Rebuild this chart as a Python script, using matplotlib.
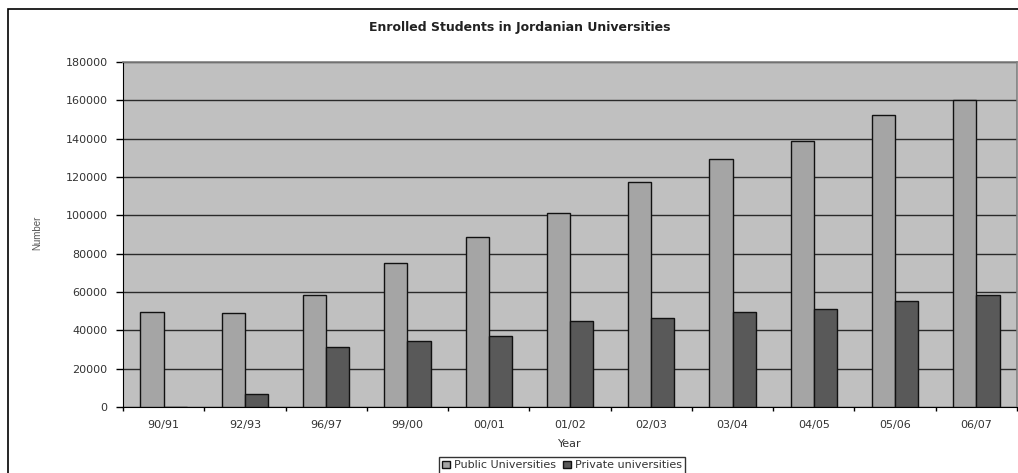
import numpy as np
import matplotlib
matplotlib.use('Agg')
import matplotlib.pyplot as plt
from matplotlib.patches import Rectangle

# dados
anos = ['90/91', '92/93', '96/97', '99/00', '00/01', '01/02',
        '02/03', '03/04', '04/05', '05/06', '06/07']
publicas = [49700, 49200, 58400, 75000, 88500, 101400,
            117400, 129600, 138600, 152200, 160200]
privadas = [0, 7000, 31100, 34600, 37200, 44700,
            46300, 49700, 51000, 55500, 58300]

plt.rcParams['font.family'] = ['DejaVu Sans']

fig = plt.figure(figsize=(10.18, 4.73), dpi=100)
ax = fig.add_axes([123 / 1018, 1 - 407 / 473, 894 / 1018, 345 / 473])
ax.set_facecolor('#c0c0c0')

x = np.arange(len(anos))
larg = 1 / 3.5  # gap width 150%
ax.bar(x - larg / 2, publicas, larg, color='#a5a5a5', edgecolor='#111111',
       linewidth=1.0, label='Public Universities', zorder=3)
ax.bar(x + larg / 2, privadas, larg, color='#595959', edgecolor='#111111',
       linewidth=1.0, label='Private universities', zorder=3)

ax.set_xlim(-0.5, len(anos) - 0.5)
ax.set_ylim(0, 180000)
ax.set_yticks(np.arange(0, 180001, 20000))
ax.yaxis.grid(True, color='#2a2a2a', linewidth=1.0, zorder=1)
ax.set_axisbelow(True)

# rotulos no centro, tracinhos entre categorias
ax.set_xticks(x)
ax.set_xticklabels(anos)
ax.set_xticks(np.arange(-0.5, len(anos)), minor=True)
ax.tick_params(axis='x', which='major', length=0, pad=9, labelsize=8,
               labelcolor='#333333')
ax.tick_params(axis='x', which='minor', length=3, width=1, color='black')
ax.tick_params(axis='y', length=5, width=1, pad=6, labelsize=8,
               labelcolor='#333333')

for s in ['top', 'right']:
    ax.spines[s].set_color('#808080')
    ax.spines[s].set_linewidth(1.2)
ax.spines['left'].set_color('black')
ax.spines['bottom'].set_color('black')

ax.set_xlabel('Year', fontsize=8, color='#333333', labelpad=7)
fig.text(37 / 1018, 1 - 233 / 473, 'Number', rotation=90, fontsize=7,
         color='#555555', ha='center', va='center', family='Liberation Sans')

fig.text(520 / 1018, 1 - 27 / 473, 'Enrolled Students in Jordanian Universities',
         fontsize=9, fontweight='bold', color='#222222', ha='center', va='center')

leg = fig.legend(loc='upper center', bbox_to_anchor=(562 / 1018, 1 - 457 / 473),
                 ncol=2, fontsize=8, frameon=True, fancybox=False,
                 edgecolor='black', handlelength=0.7, handleheight=0.7,
                 handletextpad=0.4, columnspacing=0.6, borderpad=0.3,
                 borderaxespad=0)
leg.get_frame().set_linewidth(1.0)
for t in leg.get_texts():
    t.set_color('#333333')

# moldura externa do grafico (cortada a direita e embaixo)
fig.patches.append(Rectangle((8 / 1018, -0.1), 1.2, 1.1 - 9 / 473 + 0.0,
                             transform=fig.transFigure, fill=False,
                             edgecolor='black', linewidth=1.2))

fig.savefig('out.png', dpi=100)
